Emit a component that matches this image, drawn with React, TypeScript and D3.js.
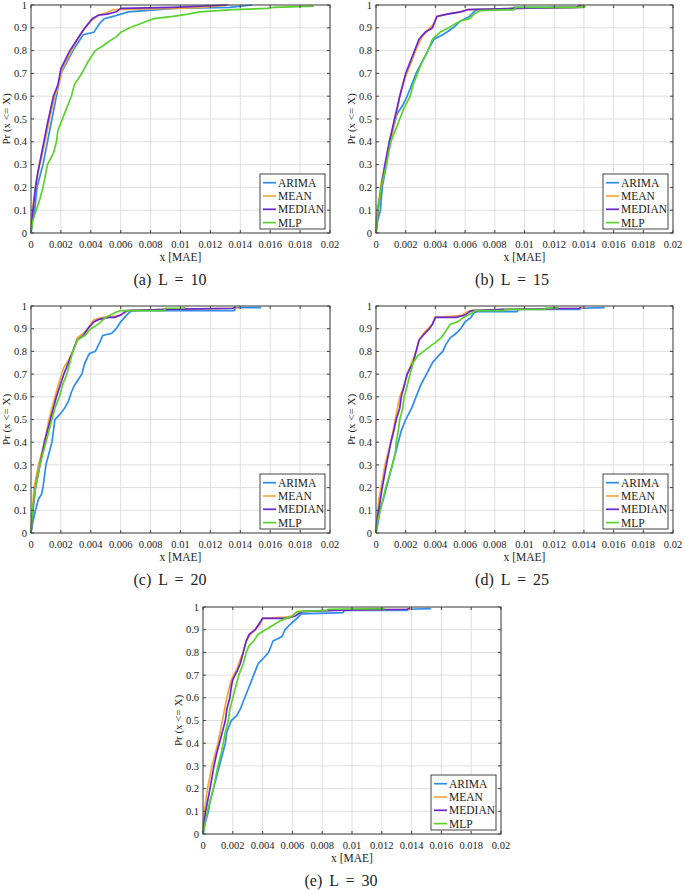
import React from "react";
import * as d3 from "d3";

type Pt = [number, number];

const seriesNames = ["ARIMA", "MEAN", "MEDIAN", "MLP"];
const seriesColors = ["#2d8cf0", "#f2a93b", "#6a25d2", "#5ad22b"];
const captions = ["(a) L = 10", "(b) L = 15", "(c) L = 20", "(d) L = 25", "(e) L = 30"];
const xTicks = [0, 0.002, 0.004, 0.006, 0.008, 0.01, 0.012, 0.014, 0.016, 0.018, 0.02];
const xTickLabels = ["0", "0.002", "0.004", "0.006", "0.008", "0.01", "0.012", "0.014", "0.016", "0.018", "0.02"];
const yTicks = [0, 0.1, 0.2, 0.3, 0.4, 0.5, 0.6, 0.7, 0.8, 0.9, 1];
const yTickLabels = ["0", "0.1", "0.2", "0.3", "0.4", "0.5", "0.6", "0.7", "0.8", "0.9", "1"];

// L = 10
const arima10: Pt[] = [[0,0],[0.0001,0.05],[0.00025,0.1],[0.0004,0.2],[0.0008,0.3],[0.0011,0.4],[0.0014,0.5],[0.0017,0.6],[0.002,0.7],[0.0024,0.75],[0.0028,0.8],[0.0033,0.85],[0.0035,0.87],[0.0042,0.88],[0.0046,0.92],[0.0049,0.94],[0.0055,0.95],[0.0065,0.97],[0.0085,0.98],[0.0096,0.985],[0.0133,0.99],[0.0148,1]];
const mean10: Pt[] = [[0,0],[0.00005,0.08],[0.0002,0.15],[0.0004,0.25],[0.0007,0.33],[0.001,0.42],[0.0013,0.52],[0.0016,0.6],[0.0019,0.66],[0.0021,0.72],[0.0024,0.76],[0.0028,0.81],[0.0032,0.86],[0.0036,0.9],[0.004,0.93],[0.0045,0.955],[0.005,0.965],[0.0055,0.98],[0.0098,0.985],[0.0115,0.99],[0.0133,1]];
const median10: Pt[] = [[0,0],[0.0001,0.08],[0.0003,0.2],[0.0005,0.28],[0.0008,0.38],[0.0011,0.48],[0.0013,0.54],[0.0015,0.6],[0.0018,0.65],[0.002,0.72],[0.0023,0.76],[0.0026,0.8],[0.003,0.84],[0.0035,0.89],[0.0041,0.94],[0.0045,0.955],[0.0051,0.96],[0.0057,0.97],[0.006,0.985],[0.0095,0.99],[0.0131,1]];
const mlp10: Pt[] = [[0,0],[0.0001,0.05],[0.00035,0.1],[0.0006,0.15],[0.0008,0.2],[0.0011,0.3],[0.0015,0.35],[0.0017,0.4],[0.0018,0.45],[0.0021,0.5],[0.0024,0.55],[0.0027,0.6],[0.0029,0.65],[0.0034,0.7],[0.0038,0.75],[0.0043,0.8],[0.0048,0.82],[0.0052,0.84],[0.0057,0.86],[0.006,0.88],[0.0066,0.9],[0.0074,0.92],[0.0082,0.94],[0.0095,0.95],[0.0105,0.96],[0.0113,0.97],[0.0135,0.98],[0.0158,0.985],[0.0163,0.99],[0.0189,0.995]];

// L = 15
const arima15: Pt[] = [[0,0],[0.0001,0.05],[0.0003,0.1],[0.00042,0.2],[0.0007,0.3],[0.0009,0.4],[0.0012,0.47],[0.0014,0.52],[0.0018,0.56],[0.0021,0.6],[0.0024,0.65],[0.0027,0.7],[0.0031,0.75],[0.0035,0.8],[0.0039,0.85],[0.0045,0.87],[0.0052,0.9],[0.0057,0.93],[0.0063,0.95],[0.0066,0.97],[0.0068,0.98],[0.0092,0.98],[0.0093,0.99],[0.0138,0.99],[0.014,1]];
const mean15: Pt[] = [[0,0],[0.00002,0.07],[0.0002,0.15],[0.0004,0.24],[0.0007,0.32],[0.001,0.4],[0.0013,0.5],[0.0016,0.6],[0.0019,0.67],[0.0022,0.72],[0.0025,0.77],[0.0028,0.82],[0.0031,0.86],[0.0035,0.89],[0.0039,0.92],[0.0041,0.95],[0.0048,0.96],[0.0057,0.97],[0.0062,0.98],[0.0095,0.985],[0.0135,0.99],[0.014,1]];
const median15: Pt[] = [[0,0],[0.00013,0.1],[0.00036,0.2],[0.0006,0.3],[0.0009,0.4],[0.00125,0.5],[0.0016,0.6],[0.002,0.7],[0.0023,0.75],[0.0026,0.8],[0.0029,0.85],[0.0033,0.88],[0.0038,0.9],[0.0041,0.95],[0.0048,0.96],[0.0057,0.97],[0.0062,0.98],[0.0093,0.985],[0.0135,0.99],[0.0138,1]];
const mlp15: Pt[] = [[0,0],[0.00013,0.1],[0.00036,0.2],[0.0007,0.3],[0.001,0.4],[0.0013,0.45],[0.0016,0.5],[0.0019,0.55],[0.0023,0.6],[0.0025,0.65],[0.0028,0.7],[0.0031,0.75],[0.0035,0.8],[0.0038,0.85],[0.0043,0.88],[0.0046,0.89],[0.0049,0.9],[0.0054,0.92],[0.0057,0.93],[0.0063,0.94],[0.0066,0.96],[0.007,0.975],[0.0093,0.98],[0.0094,0.99],[0.014,0.99],[0.0141,0.995]];

// L = 20
const arima20: Pt[] = [[0,0],[0.00013,0.05],[0.0003,0.1],[0.0005,0.15],[0.0007,0.17],[0.0008,0.2],[0.001,0.3],[0.0012,0.35],[0.0014,0.4],[0.0015,0.45],[0.0016,0.5],[0.0019,0.52],[0.00225,0.55],[0.0025,0.58],[0.0027,0.62],[0.0029,0.65],[0.0031,0.67],[0.0034,0.7],[0.0036,0.75],[0.0039,0.79],[0.0043,0.8],[0.0046,0.84],[0.0048,0.87],[0.0054,0.88],[0.0057,0.9],[0.006,0.93],[0.0064,0.96],[0.0067,0.98],[0.0136,0.98],[0.0137,0.993],[0.0154,0.993]];
const mean20: Pt[] = [[0,0],[0.0001,0.1],[0.0002,0.2],[0.0005,0.3],[0.0009,0.4],[0.0012,0.5],[0.0016,0.6],[0.0019,0.67],[0.0022,0.73],[0.0025,0.76],[0.0028,0.8],[0.0031,0.86],[0.0035,0.88],[0.0038,0.9],[0.0042,0.94],[0.0048,0.95],[0.0056,0.955],[0.006,0.96],[0.0065,0.98],[0.0093,0.985],[0.0137,0.99],[0.0138,0.995]];
const median20: Pt[] = [[0,0],[0.00013,0.1],[0.0003,0.2],[0.0006,0.3],[0.0009,0.4],[0.0013,0.5],[0.0015,0.55],[0.0017,0.6],[0.0022,0.7],[0.0025,0.75],[0.0028,0.8],[0.0031,0.85],[0.0035,0.87],[0.0038,0.9],[0.0042,0.93],[0.0045,0.94],[0.0052,0.95],[0.0056,0.95],[0.006,0.96],[0.0064,0.98],[0.0091,0.985],[0.0135,0.99],[0.0137,0.995]];
const mlp20: Pt[] = [[0,0],[0.0001,0.1],[0.0003,0.2],[0.0006,0.3],[0.001,0.4],[0.0014,0.5],[0.0016,0.55],[0.0019,0.6],[0.0021,0.65],[0.0024,0.7],[0.0026,0.75],[0.0028,0.8],[0.0031,0.85],[0.0036,0.87],[0.004,0.9],[0.0045,0.92],[0.005,0.95],[0.0056,0.97],[0.006,0.98],[0.0089,0.98],[0.009,0.99],[0.0102,0.99],[0.0103,0.995]];

// L = 25
const arima25: Pt[] = [[0,0],[0.00015,0.05],[0.00025,0.1],[0.0005,0.15],[0.0007,0.2],[0.0009,0.25],[0.0011,0.3],[0.0013,0.35],[0.0015,0.4],[0.0017,0.45],[0.002,0.5],[0.0024,0.55],[0.0027,0.6],[0.003,0.65],[0.0034,0.7],[0.0038,0.75],[0.0042,0.78],[0.0045,0.8],[0.0047,0.83],[0.005,0.86],[0.0054,0.88],[0.0057,0.9],[0.006,0.93],[0.0064,0.95],[0.0066,0.97],[0.0068,0.975],[0.0095,0.975],[0.0096,0.985],[0.0137,0.985],[0.0138,0.99],[0.0154,0.993]];
const mean25: Pt[] = [[0,0],[0.0001,0.08],[0.0002,0.15],[0.0004,0.22],[0.0006,0.3],[0.001,0.4],[0.0013,0.5],[0.0016,0.6],[0.0019,0.65],[0.0021,0.7],[0.0024,0.75],[0.0027,0.8],[0.0029,0.85],[0.0032,0.88],[0.0035,0.9],[0.0038,0.92],[0.004,0.95],[0.0052,0.955],[0.0058,0.96],[0.0063,0.98],[0.0088,0.985],[0.0138,0.99],[0.014,0.995]];
const median25: Pt[] = [[0,0],[0.00005,0.05],[0.00018,0.1],[0.00042,0.2],[0.0007,0.3],[0.001,0.4],[0.0012,0.45],[0.00136,0.5],[0.0016,0.55],[0.0017,0.6],[0.0019,0.65],[0.0021,0.7],[0.0025,0.75],[0.0027,0.8],[0.0029,0.85],[0.0033,0.88],[0.0036,0.9],[0.0038,0.92],[0.004,0.95],[0.0054,0.95],[0.006,0.96],[0.0063,0.975],[0.0065,0.98],[0.0086,0.985],[0.0137,0.99],[0.0138,0.995]];
const mlp25: Pt[] = [[0,0],[0.0001,0.05],[0.0003,0.1],[0.00065,0.2],[0.0011,0.3],[0.0013,0.35],[0.00136,0.4],[0.0015,0.45],[0.0016,0.5],[0.0018,0.55],[0.0019,0.6],[0.0021,0.65],[0.0023,0.7],[0.0025,0.75],[0.0028,0.78],[0.0032,0.8],[0.0036,0.82],[0.004,0.84],[0.0044,0.86],[0.0046,0.88],[0.0048,0.9],[0.005,0.92],[0.0055,0.93],[0.0059,0.95],[0.0065,0.97],[0.0067,0.98],[0.0086,0.98],[0.0087,0.985],[0.0113,0.985],[0.0114,0.99],[0.0123,0.993]];

// L = 30
const arima30: Pt[] = [[0,0],[0.00015,0.05],[0.00036,0.1],[0.0005,0.15],[0.0007,0.2],[0.0009,0.25],[0.0011,0.3],[0.0013,0.35],[0.0015,0.4],[0.0016,0.45],[0.0019,0.5],[0.00225,0.52],[0.0025,0.55],[0.0028,0.6],[0.0031,0.65],[0.0034,0.7],[0.0037,0.75],[0.004,0.77],[0.0044,0.8],[0.0047,0.85],[0.0053,0.87],[0.0055,0.9],[0.0058,0.92],[0.0063,0.95],[0.0066,0.97],[0.0094,0.975],[0.0095,0.985],[0.0137,0.985],[0.0138,0.99],[0.0153,0.993]];
const mean30: Pt[] = [[0,0],[0.0001,0.1],[0.0003,0.2],[0.0006,0.3],[0.001,0.4],[0.0013,0.5],[0.0016,0.6],[0.0019,0.68],[0.0023,0.73],[0.0025,0.77],[0.0027,0.8],[0.0029,0.85],[0.0032,0.88],[0.0035,0.9],[0.0038,0.92],[0.004,0.95],[0.0055,0.955],[0.006,0.96],[0.0063,0.98],[0.0087,0.985],[0.0139,0.99],[0.014,0.995]];
const median30: Pt[] = [[0,0],[0.00007,0.05],[0.00018,0.1],[0.00047,0.2],[0.00074,0.3],[0.0009,0.35],[0.0011,0.4],[0.0013,0.45],[0.0015,0.5],[0.0016,0.55],[0.0018,0.6],[0.0019,0.65],[0.002,0.68],[0.0023,0.72],[0.0025,0.75],[0.0027,0.8],[0.0029,0.85],[0.0031,0.88],[0.0035,0.9],[0.0037,0.92],[0.004,0.95],[0.0056,0.95],[0.0062,0.96],[0.0064,0.97],[0.0067,0.98],[0.0087,0.985],[0.0137,0.99],[0.0139,0.995]];
const mlp30: Pt[] = [[0,0],[0.00015,0.05],[0.0003,0.1],[0.0007,0.2],[0.001,0.3],[0.0012,0.35],[0.00136,0.4],[0.0015,0.45],[0.0017,0.5],[0.0018,0.55],[0.002,0.6],[0.0022,0.65],[0.0024,0.7],[0.0027,0.75],[0.0029,0.8],[0.0031,0.83],[0.0034,0.85],[0.0037,0.88],[0.0042,0.9],[0.0047,0.92],[0.0052,0.94],[0.0056,0.95],[0.006,0.96],[0.0063,0.98],[0.0083,0.985],[0.0084,0.99],[0.0122,0.993]];

const panelSeries: Pt[][][] = [
  [arima10, mean10, median10, mlp10],
  [arima15, mean15, median15, mlp15],
  [arima20, mean20, median20, mlp20],
  [arima25, mean25, median25, mlp25],
  [arima30, mean30, median30, mlp30],
];

// layout (plot boxes) and caption centres
const boxes = [
  { l: 31, r: 330, t: 5, b: 233, cx: 170 },
  { l: 376, r: 673, t: 5, b: 233, cx: 512 },
  { l: 31, r: 330, t: 306, b: 533, cx: 170 },
  { l: 376, r: 673, t: 306, b: 533, cx: 512 },
  { l: 203, r: 501, t: 607, b: 834, cx: 341 },
];

const FONT = "'Liberation Serif', 'Times New Roman', serif";

function Panel({ idx }: { idx: number }) {
  const bx = boxes[idx];
  const x = d3.scaleLinear().domain([0, 0.02]).range([bx.l, bx.r]);
  const y = d3.scaleLinear().domain([0, 1]).range([bx.b, bx.t]);
  const line = d3
    .line<Pt>()
    .x((d) => x(d[0]))
    .y((d) => y(d[1]));
  const series = panelSeries[idx];
  const legW = 65;
  const legH = 55;
  const legX = bx.r - 5 - legW;
  const legY = bx.b - 4 - legH;
  const tickLen = 3;
  const axisCol = "#444";
  return (
    <g>
      <rect x={bx.l} y={bx.t} width={bx.r - bx.l} height={bx.b - bx.t} fill="#fff" />
      {/* grid */}
      {xTicks.map((t, i) => (
        <line key={"gx" + i} x1={x(t)} x2={x(t)} y1={bx.t} y2={bx.b} stroke="#dedede" strokeWidth={1} />
      ))}
      {yTicks.map((t, i) => (
        <line key={"gy" + i} x1={bx.l} x2={bx.r} y1={y(t)} y2={y(t)} stroke="#dedede" strokeWidth={1} />
      ))}
      {/* curves */}
      {series.map((s, i) => (
        <path key={"s" + i} d={line(s) || ""} fill="none" stroke={seriesColors[i]} strokeWidth={1.7} strokeLinejoin="miter" />
      ))}
      {/* box */}
      <rect x={bx.l} y={bx.t} width={bx.r - bx.l} height={bx.b - bx.t} fill="none" stroke={axisCol} strokeWidth={1} />
      {/* ticks */}
      {xTicks.map((t, i) => (
        <g key={"tx" + i}>
          <line x1={x(t)} x2={x(t)} y1={bx.b} y2={bx.b - tickLen} stroke={axisCol} />
          <line x1={x(t)} x2={x(t)} y1={bx.t} y2={bx.t + tickLen} stroke={axisCol} />
          <text x={x(t)} y={bx.b + 15} textAnchor="middle" fontSize={10.5} fontFamily={FONT} fill="#222">
            {xTickLabels[i]}
          </text>
        </g>
      ))}
      {yTicks.map((t, i) => (
        <g key={"ty" + i}>
          <line x1={bx.l} x2={bx.l + tickLen} y1={y(t)} y2={y(t)} stroke={axisCol} />
          <line x1={bx.r} x2={bx.r - tickLen} y1={y(t)} y2={y(t)} stroke={axisCol} />
          <text x={bx.l - 4} y={y(t) + 3.6} textAnchor="end" fontSize={10.5} fontFamily={FONT} fill="#222">
            {yTickLabels[i]}
          </text>
        </g>
      ))}
      {/* axis labels */}
      <text x={(bx.l + bx.r) / 2} y={bx.b + 28} textAnchor="middle" fontSize={11.5} fontFamily={FONT} fill="#222">
        x [MAE]
      </text>
      <text
        transform={`translate(${bx.l - 21},${(bx.t + bx.b) / 2}) rotate(-90)`}
        textAnchor="middle"
        fontSize={11}
        fontFamily={FONT}
        fill="#222"
      >
        Pr (x {"<="} X)
      </text>
      {/* legend */}
      <rect x={legX} y={legY} width={legW} height={legH} fill="#fff" stroke={axisCol} strokeWidth={1} />
      {seriesNames.map((n, i) => {
        const cy = legY + 8.7 + i * 13.3;
        return (
          <g key={"lg" + i}>
            <line x1={legX + 3} x2={legX + 16} y1={cy} y2={cy} stroke={seriesColors[i]} strokeWidth={1.7} />
            <text x={legX + 18} y={cy + 4} fontSize={11.5} fontFamily={FONT} fill="#222">
              {n}
            </text>
          </g>
        );
      })}
      {/* caption */}
      <text x={bx.cx} y={bx.b + 52} textAnchor="middle" fontSize={16} fontFamily={FONT} fill="#222" style={{ wordSpacing: "3px" }} xmlSpace="preserve">
        {captions[idx]}
      </text>
    </g>
  );
}

export default function App() {
  return (
    <svg
      width={685}
      height={890}
      viewBox="0 0 685 890"
      style={{ position: "absolute", left: 0, top: 0, background: "#fff" }}
    >
      <rect x={0} y={0} width={685} height={890} fill="#fff" />
      {boxes.map((_, i) => (
        <Panel key={i} idx={i} />
      ))}
    </svg>
  );
}
